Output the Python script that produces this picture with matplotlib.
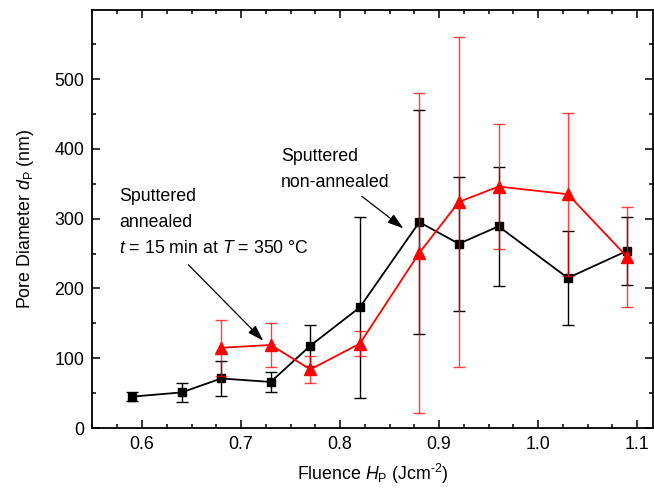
"""Pore diameter vs. fluence for sputtered films (annealed / non-annealed)."""

import matplotlib

matplotlib.use("Agg")
import matplotlib.pyplot as plt
from matplotlib.ticker import MultipleLocator

plt.rcParams["font.family"] = ["Liberation Sans", "DejaVu Sans"]
plt.rcParams["mathtext.fontset"] = "custom"
plt.rcParams["mathtext.rm"] = "Liberation Sans"
plt.rcParams["mathtext.it"] = "Liberation Sans:italic"

# sputtered, non-annealed (black squares)
fluence_na = [0.59, 0.64, 0.68, 0.73, 0.77, 0.82, 0.88, 0.92, 0.96, 1.03, 1.09]
diam_na = [45, 51, 71, 66, 118, 173, 295, 264, 289, 215, 254]
err_na = [6, 14, 25, 14, 29, 130, 160, 96, 85, 68, 49]

# sputtered, annealed 15 min at 350 C (red triangles)
fluence_an = [0.68, 0.73, 0.77, 0.82, 0.88, 0.92, 0.96, 1.03, 1.09]
diam_an = [115, 119, 84, 121, 251, 324, 346, 335, 245]
err_an = [40, 31, 19, 18, 229, 237, 90, 117, 71]

FS = 12.8

fig = plt.figure(figsize=(6.54, 4.90), dpi=100)
ax = fig.add_axes([0.1414, 0.1265, 0.8571, 0.8531])

ax.errorbar(fluence_na, diam_na, yerr=err_na, fmt="-s", color="black",
            ecolor="black", elinewidth=1.0, capsize=4, capthick=1.0,
            markersize=5.5, linewidth=1.3, zorder=2)
ax.errorbar(fluence_an, diam_an, yerr=err_an, fmt="-^", color="#ff0000",
            ecolor=(1, 0, 0, 0.75), elinewidth=1.0, capsize=4, capthick=1.0,
            markersize=8, linewidth=1.3, zorder=3)

ax.set_xlim(0.55, 1.116)
ax.set_ylim(0, 599)
ax.xaxis.set_major_locator(MultipleLocator(0.1))
ax.xaxis.set_minor_locator(MultipleLocator(0.025))
ax.yaxis.set_major_locator(MultipleLocator(100))
ax.yaxis.set_minor_locator(MultipleLocator(50))
ax.xaxis.set_major_formatter(matplotlib.ticker.FormatStrFormatter("%.1f"))

ax.tick_params(which="both", direction="in", top=True, right=True,
               labelsize=FS, width=1.1, pad=6)
ax.tick_params(which="major", length=6)
ax.tick_params(which="minor", length=3.2)
for s in ax.spines.values():
    s.set_linewidth(1.3)

ax.set_xlabel(r"Fluence $H_\mathrm{P}$ (Jcm$^{\text{-2}}$)", fontsize=FS,
              labelpad=6)
ax.set_ylabel(r"Pore Diameter $d_\mathrm{P}$ (nm)", fontsize=FS, labelpad=13)

arrow = dict(arrowstyle="-|>,head_length=0.7,head_width=0.22", color="black",
             lw=0.9, mutation_scale=14, shrinkA=0, shrinkB=0)

# annotations
ax.text(0.7404, 401, "Sputtered\nnon-annealed", fontsize=FS, va="top",
        ha="left", linespacing=1.7)
ax.annotate("", xy=(0.864, 286), xytext=(0.822, 332), arrowprops=arrow)

ax.text(0.5768, 344, "Sputtered\nannealed\n$t$ = 15 min at $T$ = 350 °C",
        fontsize=FS, va="top", ha="left", linespacing=1.7)
ax.annotate("", xy=(0.7225, 125), xytext=(0.6468, 234), arrowprops=arrow)

fig.savefig("out.png", dpi=100)
